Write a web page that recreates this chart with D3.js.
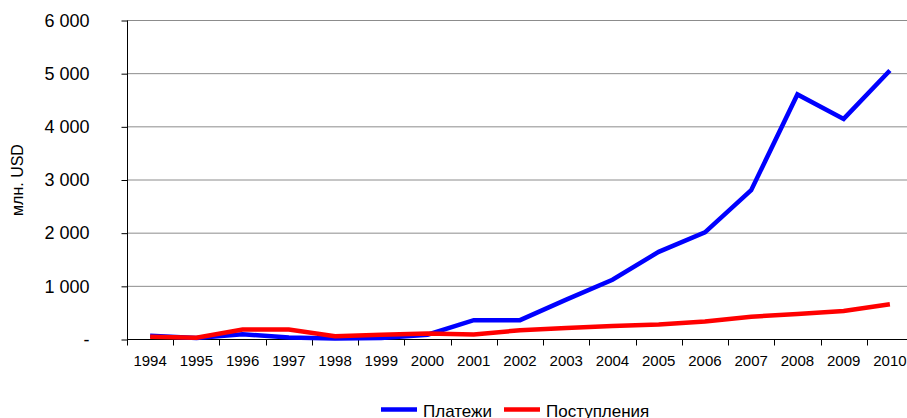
<!DOCTYPE html>
<html>
<head>
<meta charset="utf-8">
<script src="https://cdn.jsdelivr.net/npm/d3@7"></script>
<style>
  body { margin: 0; background: #fff; }
  svg { display: block; font-family: "Liberation Sans", Arial, sans-serif; }
</style>
</head>
<body>
<div id="container"></div>
<script>
const width = 907;
const height = 418;

// DATA
const years = ["1994", "1995", "1996", "1997", "1998", "1999", "2000", "2001", "2002",
    "2003", "2004", "2005", "2006", "2007", "2008", "2009", "2010"];
const payments = [60, 20, 90, 30, 10, 20, 80, 355, 355, 740, 1115, 1640, 2005, 2800, 4600, 4140, 5050];
const receipts = [40, 25, 180, 180, 50, 80, 105, 85, 165, 205, 245, 275, 330, 420, 470, 525, 655];
const yTicks = [0, 1000, 2000, 3000, 4000, 5000, 6000];
const seriesNames = ["Платежи", "Поступления"];
const seriesColors = ["#0000ff", "#ff0000"];

const svg = d3.select("div#container").append("svg")
    .attr("width", width)
    .attr("height", height);

// SCALES
const xScale = d3.scaleBand().domain(years).range([127, 913]);
const yScale = d3.scaleLinear().domain([0, 6000]).range([339, 20]);

// GRID
svg.append("g")
    .selectAll("line")
    .data(yTicks.slice(1))
    .enter()
    .append("line")
    .attr("x1", 127)
    .attr("x2", width)
    .attr("y1", d => yScale(d) + 0.5)
    .attr("y2", d => yScale(d) + 0.5)
    .attr("stroke", "#8c8c8c")
    .attr("stroke-width", 1);

// AXES
const fmt = d => d === 0 ? "-" : d3.format(",")(d).replace(",", " ");
const yaxis = d3.axisLeft(yScale)
    .tickValues(yTicks)
    .tickFormat(fmt)
    .tickSize(6)
    .tickPadding(32);

const gy = svg.append("g")
    .attr("transform", "translate(127.5,0.5)")
    .call(yaxis);
gy.select(".domain").attr("stroke", "#000").attr("d", "M0," + yScale(6000) + "V" + yScale(0));
gy.selectAll(".tick line").attr("stroke", "#000");
gy.selectAll(".tick text")
    .attr("fill", "#000")
    .style("font-size", "18px")
    .style("font-family", "Liberation Sans, Arial, sans-serif");

const xaxis = d3.axisBottom(xScale).tickSize(0).tickPadding(16);
const gx = svg.append("g")
    .attr("transform", "translate(0," + (yScale(0) + 0.5) + ")")
    .call(xaxis);
gx.select(".domain").attr("stroke", "#000").attr("d", "M127,0H" + width);
gx.selectAll(".tick text")
    .attr("fill", "#000")
    .style("font-size", "15px")
    .style("font-family", "Liberation Sans, Arial, sans-serif");

// tick marks sit between the categories
gx.append("g")
    .selectAll("line")
    .data(years)
    .enter()
    .append("line")
    .attr("x1", d => Math.round(xScale(d)) + 0.5)
    .attr("x2", d => Math.round(xScale(d)) + 0.5)
    .attr("y1", 0)
    .attr("y2", 6)
    .attr("stroke", "#000");

svg.append("text")
    .attr("transform", "translate(23,180) rotate(-90)")
    .attr("text-anchor", "middle")
    .style("font-size", "16px")
    .text("млн. USD");

// LINES
const line = d3.line()
    .x((d, i) => xScale(years[i]) + xScale.bandwidth() / 2)
    .y(d => yScale(d));

[payments, receipts].forEach(function (values, k) {
    svg.append("path")
        .attr("d", line(values))
        .attr("fill", "none")
        .attr("stroke", seriesColors[k])
        .attr("stroke-width", 4.5);
});

// LEGEND
const legendX = [381, 504];
const legend = svg.append("g");
seriesNames.forEach(function (name, k) {
    legend.append("line")
        .attr("x1", legendX[k])
        .attr("x2", legendX[k] + 36)
        .attr("y1", 409.5)
        .attr("y2", 409.5)
        .attr("stroke", seriesColors[k])
        .attr("stroke-width", 4.5);
    legend.append("text")
        .attr("x", legendX[k] + 42)
        .attr("y", 417)
        .style("font-size", "17px")
        .text(name);
});
</script>
</body>
</html>
